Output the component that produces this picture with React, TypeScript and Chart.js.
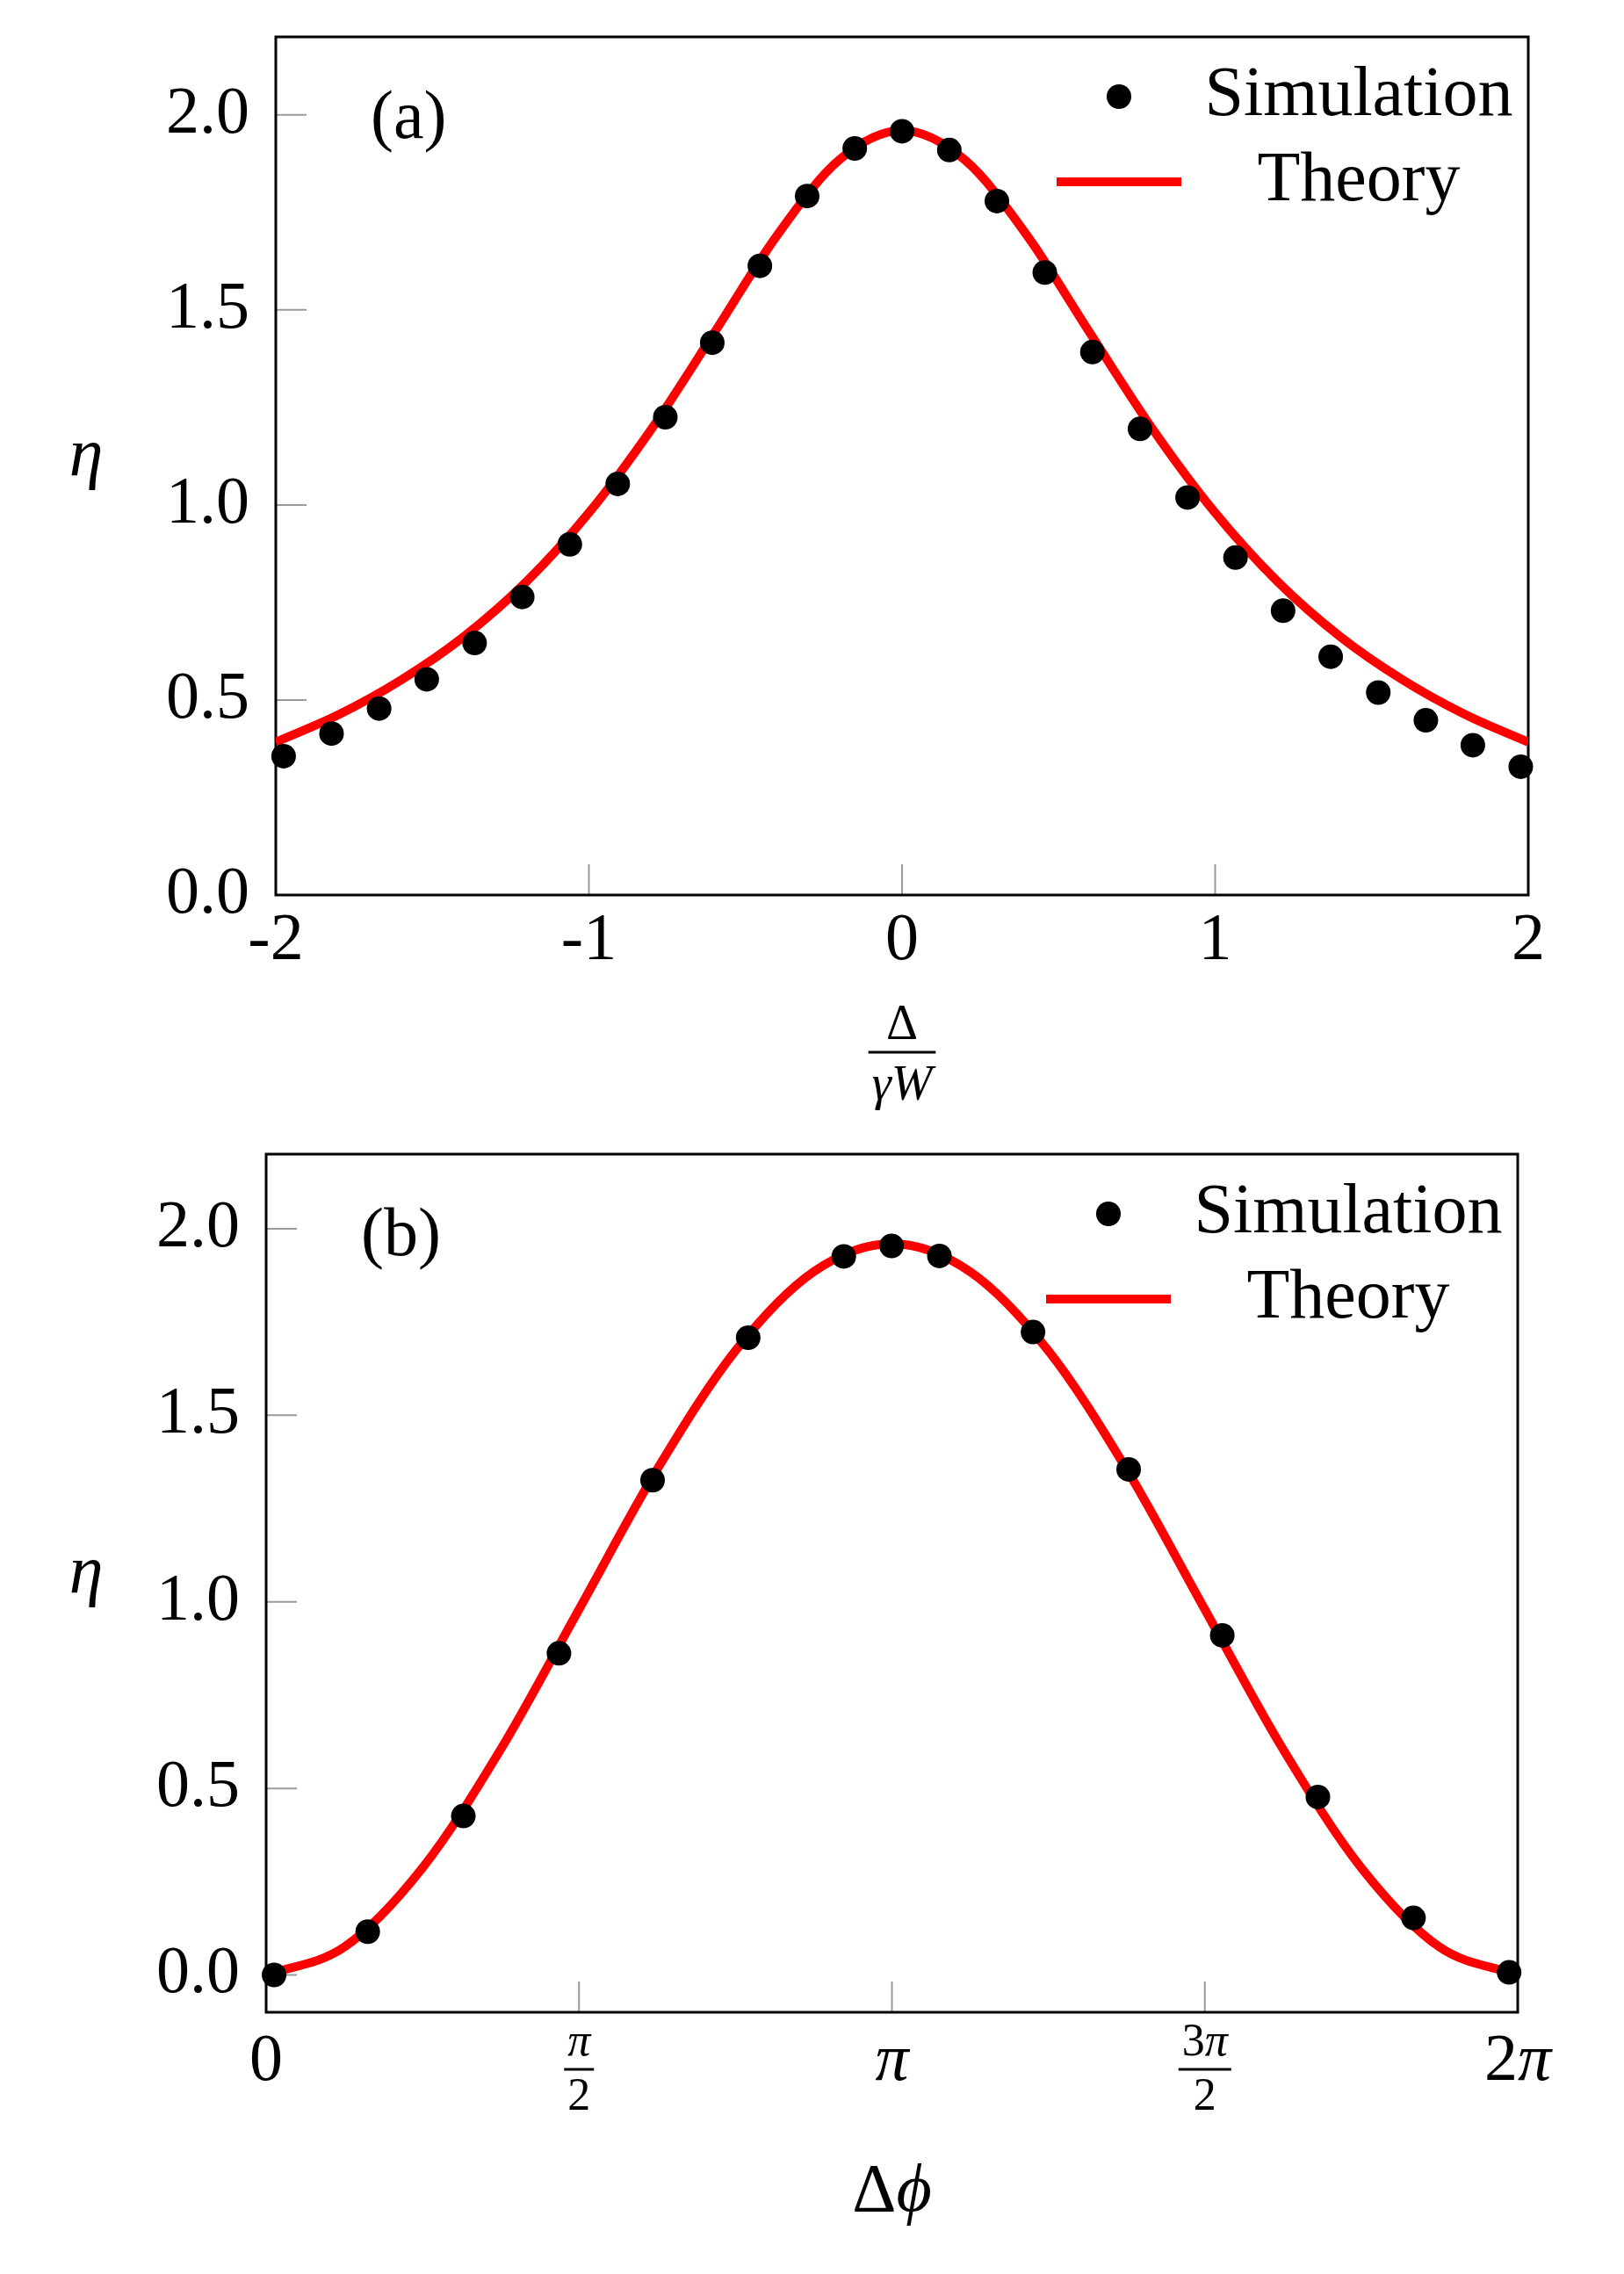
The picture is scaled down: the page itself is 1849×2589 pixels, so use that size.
import { useEffect, useRef } from 'react';
import { Chart, registerables } from 'chart.js';
import type { Plugin } from 'chart.js';

Chart.register(...registerables);

const SERIF = '"Liberation Serif", "DejaVu Serif", serif';
const PAGE_W = 1849;
const TICK_FONT = 76;
const TEXT_FONT = 78;
const LEGEND_FONT = 80;
const TICK_LEN = 35;

// panel (a): efficiency vs normalised detuning
const detuningSim = [
	-1.975, -1.822, -1.67, -1.518, -1.365, -1.213, -1.061, -0.908, -0.756, -0.606, -0.454, -0.303, -0.151, 0,
	0.151, 0.303, 0.456, 0.608, 0.76, 0.912, 1.065, 1.217, 1.369, 1.521, 1.673, 1.823, 1.976,
];
const etaSimA = [
	0.356, 0.414, 0.478, 0.553, 0.646, 0.764, 0.899, 1.054, 1.225, 1.416, 1.613, 1.792, 1.914, 1.958,
	1.91, 1.779, 1.596, 1.392, 1.195, 1.019, 0.865, 0.729, 0.611, 0.519, 0.448, 0.384, 0.329,
];
const detuningTheory = [
	-2, -1.8, -1.6, -1.4, -1.2, -1, -0.8, -0.6, -0.4, -0.2, 0, 0.2, 0.4, 0.6, 0.8, 1, 1.2, 1.4, 1.6, 1.8, 2,
];
const etaTheoryA = [
	0.392, 0.462, 0.551, 0.662, 0.803, 0.98, 1.195, 1.441, 1.69, 1.885, 1.96, 1.885, 1.69, 1.441, 1.195, 0.98,
	0.803, 0.662, 0.551, 0.462, 0.392,
];
const xTicksA = [-2, -1, 0, 1, 2];

// panel (b): efficiency vs phase difference
const phaseSim = [0.04, 0.51, 0.99, 1.47, 1.94, 2.42, 2.9, 3.14, 3.38, 3.85, 4.33, 4.8, 5.28, 5.76, 6.24];
const etaSimB = [0.0, 0.116, 0.426, 0.862, 1.326, 1.708, 1.926, 1.954, 1.927, 1.723, 1.355, 0.91, 0.477, 0.153, 0.007];
const phaseTheory = [
	0, 0.393, 0.785, 1.178, 1.571, 1.963, 2.356, 2.749, 3.142, 3.534, 3.927, 4.32, 4.712, 5.105, 5.498, 5.89, 6.283,
];
const etaTheoryB = [0, 0.075, 0.287, 0.605, 0.98, 1.355, 1.673, 1.885, 1.96, 1.885, 1.673, 1.355, 0.98, 0.605, 0.287, 0.075, 0];
const xTicksB = [0, Math.PI / 2, Math.PI, (3 * Math.PI) / 2, 2 * Math.PI];
const xTickLabelsB: Label[] = ['0', { num: 'π', den: '2' }, 'π', { num: '3π', den: '2' }, '2π'];

const yTicks = [0, 0.5, 1, 1.5, 2];

type Label = string | { num: string; den: string };

interface PanelSpec {
	tag: string;
	top: number;
	height: number;
	plot: { left: number; right: number; top: number; bottom: number };
	simX: number[];
	simY: number[];
	theoryX: number[];
	theoryY: number[];
	xRange: [number, number];
	yRange: [number, number];
	xTicks: number[];
	xTickLabels?: Label[];
	xTitle: Label;
}

const isItalic = (ch: string) => /[A-Za-z\u03b1-\u03c9\u03d5]/.test(ch);
const fontFor = (ch: string, size: number) => `${isItalic(ch) ? 'italic ' : ''}${size}px ${SERIF}`;

function mathWidth(ctx: CanvasRenderingContext2D, text: string, size: number) {
	return Array.from(text).reduce((s, ch) => {
		ctx.font = fontFor(ch, size);
		return s + ctx.measureText(ch).width;
	}, 0);
}

// math-mode text: latin and lowercase greek in italic, the rest upright
function drawMath(ctx: CanvasRenderingContext2D, text: string, x: number, y: number, size: number) {
	let cx = x - mathWidth(ctx, text, size) / 2;
	ctx.textAlign = 'left';
	ctx.textBaseline = 'alphabetic';
	for (const ch of Array.from(text)) {
		ctx.font = fontFor(ch, size);
		ctx.fillText(ch, cx, y);
		cx += ctx.measureText(ch).width;
	}
}

function drawFraction(
	ctx: CanvasRenderingContext2D,
	num: string,
	den: string,
	cx: number,
	numBase: number,
	barY: number,
	denBase: number,
	size: number,
) {
	const w = Math.max(mathWidth(ctx, num, size), mathWidth(ctx, den, size)) + 8;
	drawMath(ctx, num, cx, numBase, size);
	ctx.fillRect(cx - w / 2, barY - 1.5, w, 3);
	drawMath(ctx, den, cx, denBase, size);
}

function makeDecor(spec: PanelSpec): Plugin<'scatter'> {
	return {
		id: 'texDecor',
		beforeDatasetsDraw(chart) {
			const { ctx, chartArea: a, scales } = chart;
			ctx.save();
			// tick marks inside the axis box
			ctx.strokeStyle = '#9a9a9a';
			ctx.lineWidth = 2;
			ctx.beginPath();
			for (const v of spec.xTicks) {
				const x = scales.x.getPixelForValue(v);
				ctx.moveTo(x, a.bottom);
				ctx.lineTo(x, a.bottom - TICK_LEN);
			}
			for (const v of yTicks) {
				const y = scales.y.getPixelForValue(v);
				ctx.moveTo(a.left, y);
				ctx.lineTo(a.left + TICK_LEN, y);
			}
			ctx.stroke();
			// frame
			ctx.strokeStyle = '#000';
			ctx.lineWidth = 3;
			ctx.strokeRect(a.left, a.top, a.right - a.left, a.bottom - a.top);
			ctx.restore();
		},
		afterDraw(chart) {
			const { ctx, chartArea: a, scales } = chart;
			const midX = (a.left + a.right) / 2;
			ctx.save();
			ctx.fillStyle = '#000';

			// x tick labels with fractions
			if (spec.xTickLabels) {
				spec.xTickLabels.forEach((lab, i) => {
					const x = scales.x.getPixelForValue(spec.xTicks[i]);
					if (typeof lab === 'string') drawMath(ctx, lab, x, a.bottom + 77, TICK_FONT);
					else drawFraction(ctx, lab.num, lab.den, x, a.bottom + 49, a.bottom + 65, a.bottom + 111, 52);
				});
			}

			// axis titles
			const t = spec.xTitle;
			if (typeof t === 'string') drawMath(ctx, t, midX, a.bottom + 226, TEXT_FONT);
			else drawFraction(ctx, t.num, t.den, midX, a.bottom + 164, a.bottom + 179, a.bottom + 233, 56);
			drawMath(ctx, 'η', 98, (a.top + a.bottom) / 2 + 10, TEXT_FONT);

			// panel tag
			ctx.font = `${TEXT_FONT}px ${SERIF}`;
			ctx.textAlign = 'left';
			ctx.textBaseline = 'alphabetic';
			ctx.fillText(spec.tag, a.left + 108, a.top + 115);

			// legend
			const [sim, theory] = chart.data.datasets as any[];
			const keyX = a.right - 466;
			const textX = a.right - 193;
			ctx.beginPath();
			ctx.arc(keyX, a.top + 68, sim.pointRadius, 0, Math.PI * 2);
			ctx.fillStyle = sim.pointBackgroundColor;
			ctx.fill();
			ctx.strokeStyle = theory.borderColor;
			ctx.lineWidth = theory.borderWidth;
			ctx.beginPath();
			ctx.moveTo(keyX - 71, a.top + 165);
			ctx.lineTo(keyX + 71, a.top + 165);
			ctx.stroke();
			ctx.fillStyle = '#000';
			ctx.font = `${LEGEND_FONT}px ${SERIF}`;
			ctx.textAlign = 'center';
			ctx.fillText(sim.label, textX, a.top + 89);
			ctx.fillText(theory.label, textX, a.top + 186);
			ctx.restore();
		},
	};
}

// keep the plot box exactly where the layout padding puts it
const noScalePadding = (s: any) => {
	s.paddingTop = 0;
	s.paddingBottom = 0;
	s.paddingLeft = 0;
	s.paddingRight = 0;
};

function Panel({ spec }: { spec: PanelSpec }) {
	const chartRef = useRef<HTMLCanvasElement | null>(null);

	useEffect(() => {
		if (!chartRef.current) return;
		const existing = Chart.getChart(chartRef.current);
		if (existing) existing.destroy();

		const { plot } = spec;
		const nativeX = !spec.xTickLabels;
		const chart = new Chart(chartRef.current, {
			type: 'scatter',
			data: {
				datasets: [
					{
						label: 'Simulation',
						data: spec.simX.map((x, i) => ({ x, y: spec.simY[i] })),
						pointRadius: 14,
						pointHoverRadius: 14,
						pointBackgroundColor: '#000000',
						pointBorderWidth: 0,
						showLine: false,
						clip: false,
					},
					{
						label: 'Theory',
						data: spec.theoryX.map((x, i) => ({ x, y: spec.theoryY[i] })),
						showLine: true,
						borderColor: '#ff0000',
						borderWidth: 10,
						pointRadius: 0,
						cubicInterpolationMode: 'monotone',
						fill: false,
					},
				],
			},
			options: {
				animation: false,
				responsive: true,
				maintainAspectRatio: false,
				events: [],
				layout: { padding: { top: plot.top, right: PAGE_W - plot.right, left: 0, bottom: 0 } },
				plugins: {
					legend: { display: false },
					tooltip: { enabled: false },
				},
				scales: {
					x: {
						type: 'linear',
						min: spec.xRange[0],
						max: spec.xRange[1],
						grid: { display: false, drawTicks: false },
						border: { display: false },
						afterBuildTicks: (s) => {
							s.ticks = spec.xTicks.map((value) => ({ value }));
						},
						afterFit: (s) => {
							s.height = spec.height - plot.bottom;
							noScalePadding(s);
						},
						ticks: {
							display: nativeX,
							autoSkip: false,
							maxRotation: 0,
							padding: 15,
							color: '#000',
							font: { family: SERIF, size: TICK_FONT, lineHeight: 1 },
							callback: (v) => String(v),
						},
					},
					y: {
						type: 'linear',
						min: spec.yRange[0],
						max: spec.yRange[1],
						grid: { display: false, drawTicks: false },
						border: { display: false },
						afterBuildTicks: (s) => {
							s.ticks = yTicks.map((value) => ({ value }));
						},
						afterFit: (s) => {
							s.width = plot.left;
							noScalePadding(s);
						},
						ticks: {
							autoSkip: false,
							padding: 30,
							color: '#000',
							font: { family: SERIF, size: TICK_FONT, lineHeight: 1 },
							callback: (v) => Number(v).toFixed(1),
						},
					},
				},
			},
			plugins: [makeDecor(spec)],
		});

		return () => {
			chart.destroy();
		};
	}, [spec]);

	return (
		<div style={{ position: 'absolute', left: 0, top: spec.top, width: PAGE_W, height: spec.height }}>
			<canvas ref={chartRef}></canvas>
		</div>
	);
}

const panelA: PanelSpec = {
	tag: '(a)',
	top: 0,
	height: 1290,
	plot: { left: 314, right: 1740, top: 42, bottom: 1019 },
	simX: detuningSim,
	simY: etaSimA,
	theoryX: detuningTheory,
	theoryY: etaTheoryA,
	xRange: [-2, 2],
	yRange: [0, 2.2],
	xTicks: xTicksA,
	xTitle: { num: 'Δ', den: 'γW' },
};

const panelB: PanelSpec = {
	tag: '(b)',
	top: 1290,
	height: 1299,
	plot: { left: 303, right: 1728, top: 24, bottom: 1001 },
	simX: phaseSim,
	simY: etaSimB,
	theoryX: phaseTheory,
	theoryY: etaTheoryB,
	xRange: [0, 2 * Math.PI],
	yRange: [-0.1, 2.2],
	xTicks: xTicksB,
	xTickLabels: xTickLabelsB,
	xTitle: 'Δϕ',
};

export default function App() {
	return (
		<div style={{ position: 'absolute', left: 0, top: 0, width: PAGE_W, height: 2589, background: '#fff' }}>
			<Panel spec={panelA} />
			<Panel spec={panelB} />
		</div>
	);
}
